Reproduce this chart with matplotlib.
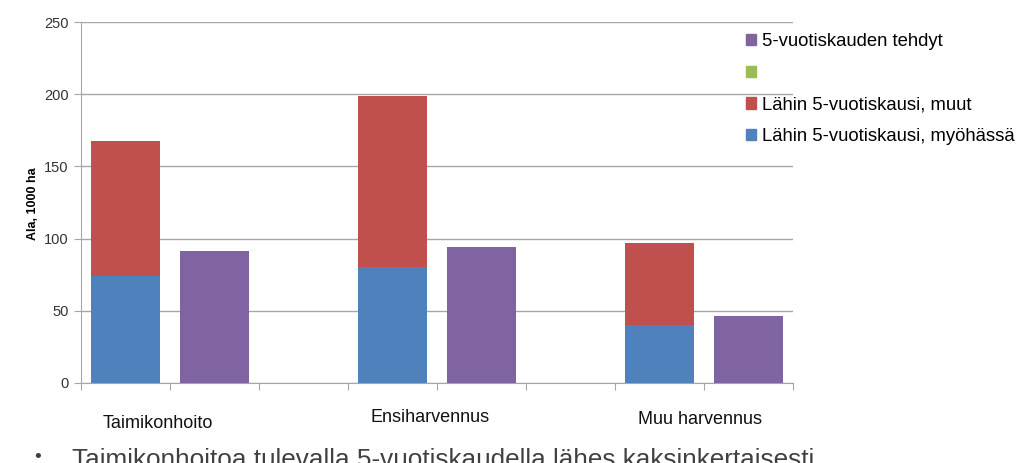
import matplotlib
matplotlib.use("Agg")
import matplotlib.pyplot as plt
from matplotlib.patches import Patch

plt.rcParams['font.family'] = ['Liberation Sans', 'DejaVu Sans']

categories = ['Taimikonhoito', 'Ensiharvennus', 'Muu harvennus']
late = [74, 80, 40]          # Lähin 5-vuotiskausi, myöhässä
others = [93.5, 118.5, 57]   # Lähin 5-vuotiskausi, muut
done = [91.5, 94, 46.5]      # 5-vuotiskauden tehdyt
yticks = [0, 50, 100, 150, 200, 250]

c_blue, c_red, c_purple, c_green = '#4F81BD', '#C0504D', '#8064A2', '#9BBB59'
grid_c = '#A6A6A6'

fig = plt.figure(figsize=(10.24, 4.63), dpi=100)
ax = fig.add_axes([81/1024, 1-383/463, 712/1024, 361/463])

w = 0.775
stack_x = [3*i for i in range(len(categories))]
done_x = [3*i + 1 for i in range(len(categories))]
ax.bar(stack_x, late, width=w, color=c_blue, zorder=3)
ax.bar(stack_x, others, bottom=late, width=w, color=c_red, zorder=3)
ax.bar(done_x, done, width=w, color=c_purple, zorder=3)

ax.set_xlim(-0.5, 7.5)
ax.set_ylim(0, 250)
ax.set_yticks(yticks)
ax.set_xticks([i + 0.5 for i in range(-1, 8)])
ax.set_xticklabels([])
ax.yaxis.grid(True, color=grid_c, lw=1, zorder=0)
for s in ['top', 'right']:
    ax.spines[s].set_visible(False)
for s in ['left', 'bottom']:
    ax.spines[s].set_color(grid_c)
ax.tick_params(axis='x', length=5, color=grid_c, direction='out')
ax.tick_params(axis='y', length=5, color=grid_c, direction='out', labelsize=10.5,
               labelcolor='#333333', pad=4)

fig.text(33/1024, 1-204/463, 'Ala, 1000 ha', rotation=90, fontsize=9, fontweight='bold',
         ha='center', va='center')

cat_pos = [(158, 423), (430, 418), (700, 419)]
for (px, py), name in zip(cat_pos, categories):
    fig.text(px/1024, 1-py/463, name, ha='center', va='center', fontsize=13, color='#111111')

handles = [Patch(color=c_purple), Patch(color=c_green), Patch(color=c_red), Patch(color=c_blue)]
labels = ['5-vuotiskauden tehdyt', '', 'Lähin 5-vuotiskausi, muut', 'Lähin 5-vuotiskausi, myöhässä']
fig.legend(handles, labels, loc='upper left', bbox_to_anchor=(746/1024, 1-33/463),
           frameon=False, handlelength=0.55, handleheight=0.55,
           handletextpad=0.3, labelspacing=0.8, borderaxespad=0, borderpad=0,
           prop={'size': 13.3})

fig.text(38/1024, 1-457/463, '•', fontsize=14, color='#404040', ha='center', va='center')
fig.text(72/1024, 1-467/463, 'Taimikonhoitoa tulevalla 5-vuotiskaudella lähes kaksinkertaisesti',
         fontsize=18.8, color='#404040', ha='left', va='baseline')

fig.savefig('out.png', dpi=100)
